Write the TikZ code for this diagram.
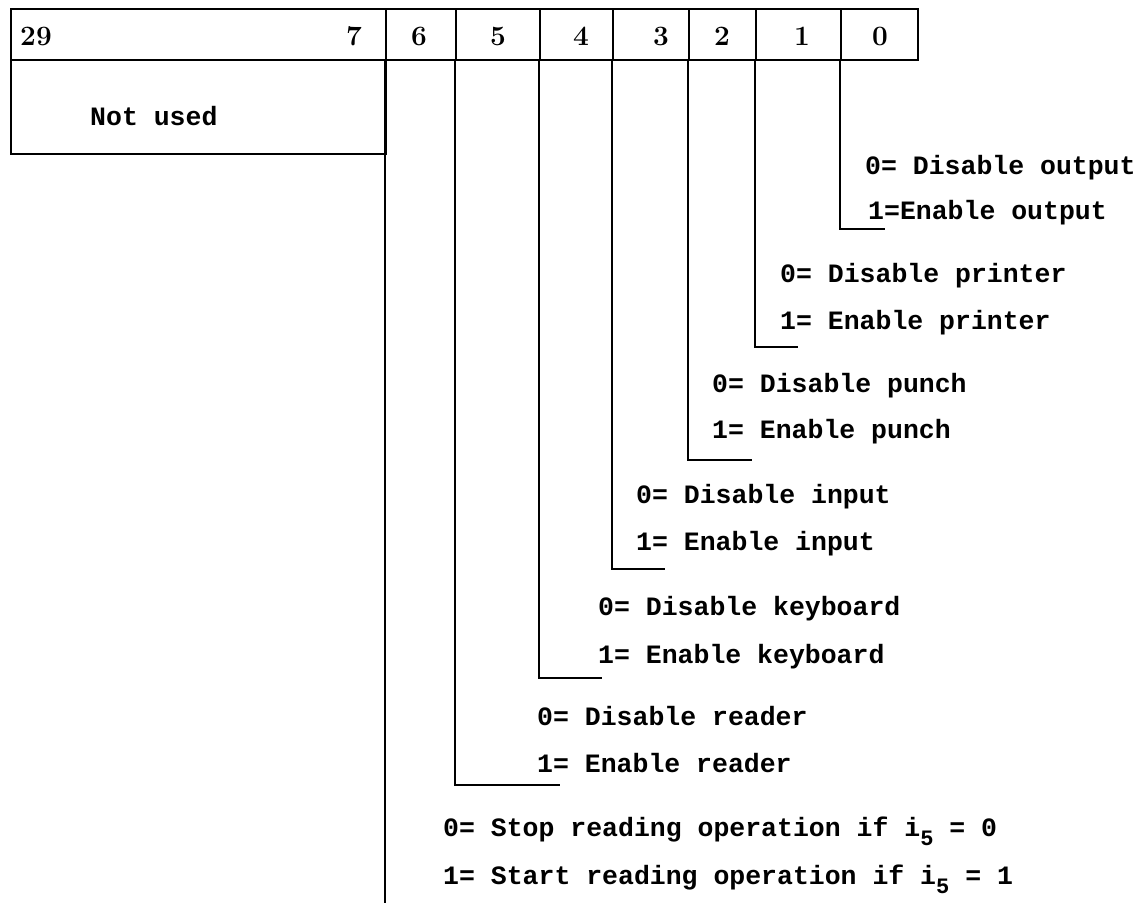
\documentclass[tikz,border=0pt]{standalone}
\usepackage{fontspec}
\newfontfamily\lblfont{Liberation Mono}
\newcommand{\lblf}{\lblfont\bfseries\fontsize{26.5}{30}\selectfont}
\newcommand{\numf}{\bfseries\fontsize{28}{30}\selectfont}
\newcommand{\subf}[1]{\raisebox{-0.35em}{\lblfont\bfseries\fontsize{22}{24}\selectfont #1}}
\begin{document}
\begin{tikzpicture}[x=1pt,y=-1pt,
  ln/.style={line width=2.2pt},
  cell/.style={draw,line width=2.2pt,anchor=north west,inner sep=0pt,minimum height=51pt},
  lbl/.style={anchor=base west,inner sep=0pt,font=\lblf},
  num/.style={anchor=center,inner sep=0pt,font=\numf}]
\useasboundingbox (0,0) rectangle (1146,903);
% header cells
\node[cell,minimum width=375pt] (cA) at (10,8) {};
\node[cell,minimum width=70pt] (c6) at (385,8) {};
\node[cell,minimum width=84pt] (c5) at (455,8) {};
\node[cell,minimum width=73pt] (c4) at (539,8) {};
\node[cell,minimum width=76pt] (c3) at (612,8) {};
\node[cell,minimum width=67pt] (c2) at (688,8) {};
\node[cell,minimum width=85pt] (c1) at (755,8) {};
\node[cell,minimum width=77pt] (c0) at (840,8) {};
\node[cell,minimum width=375pt,minimum height=94pt] (nu) at (10,59) {};
% header numbers
\node[num] (t29) at (36,36) {29};
\node[num] (t7) at (354,36) {7};
\node[num] (t6) at (419,36) {6};
\node[num] (t5) at (498,36) {5};
\node[num] (t4) at (581,36) {4};
\node[num] (t3) at (661,36) {3};
\node[num] (t2) at (722,36) {2};
\node[num] (t1) at (802,36) {1};
\node[num] (t0) at (880,36) {0};
\node[lbl] (nut) at (90,125) {Not used};
% hook end points
\coordinate (h0) at (885,229);
\coordinate (h1) at (798,347);
\coordinate (h2) at (752,460);
\coordinate (h3) at (665,569);
\coordinate (h4) at (602,678);
\coordinate (h5) at (560,785);
\coordinate (h6) at (385,903);
\draw[ln] (c0.south west) |- (h0);
\draw[ln] (c1.south west) |- (h1);
\draw[ln] (c2.south west) |- (h2);
\draw[ln] (c3.south west) |- (h3);
\draw[ln] (c4.south west) |- (h4);
\draw[ln] (c5.south west) |- (h5);
\draw[ln] (c6.south west) -- (h6);
% labels
\node[lbl] (a0) at (865,174) {0= Disable output};
\node[lbl] (b0) at (868,219) {1=Enable output};
\node[lbl] (a1) at (780,282) {0= Disable printer};
\node[lbl] (b1) at (780,329) {1= Enable printer};
\node[lbl] (a2) at (712,392) {0= Disable punch};
\node[lbl] (b2) at (712,438) {1= Enable punch};
\node[lbl] (a3) at (636,503) {0= Disable input};
\node[lbl] (b3) at (636,550) {1= Enable input};
\node[lbl] (a4) at (598,615) {0= Disable keyboard};
\node[lbl] (b4) at (598,663) {1= Enable keyboard};
\node[lbl] (a5) at (537,725) {0= Disable reader};
\node[lbl] (b5) at (537,772) {1= Enable reader};
\node[lbl] (a6) at (443,836) {0= Stop reading operation if i\subf{5} = 0};
\node[lbl] (b6) at (443,884) {1= Start reading operation if i\subf{5} = 1};
\end{tikzpicture}
\end{document}
